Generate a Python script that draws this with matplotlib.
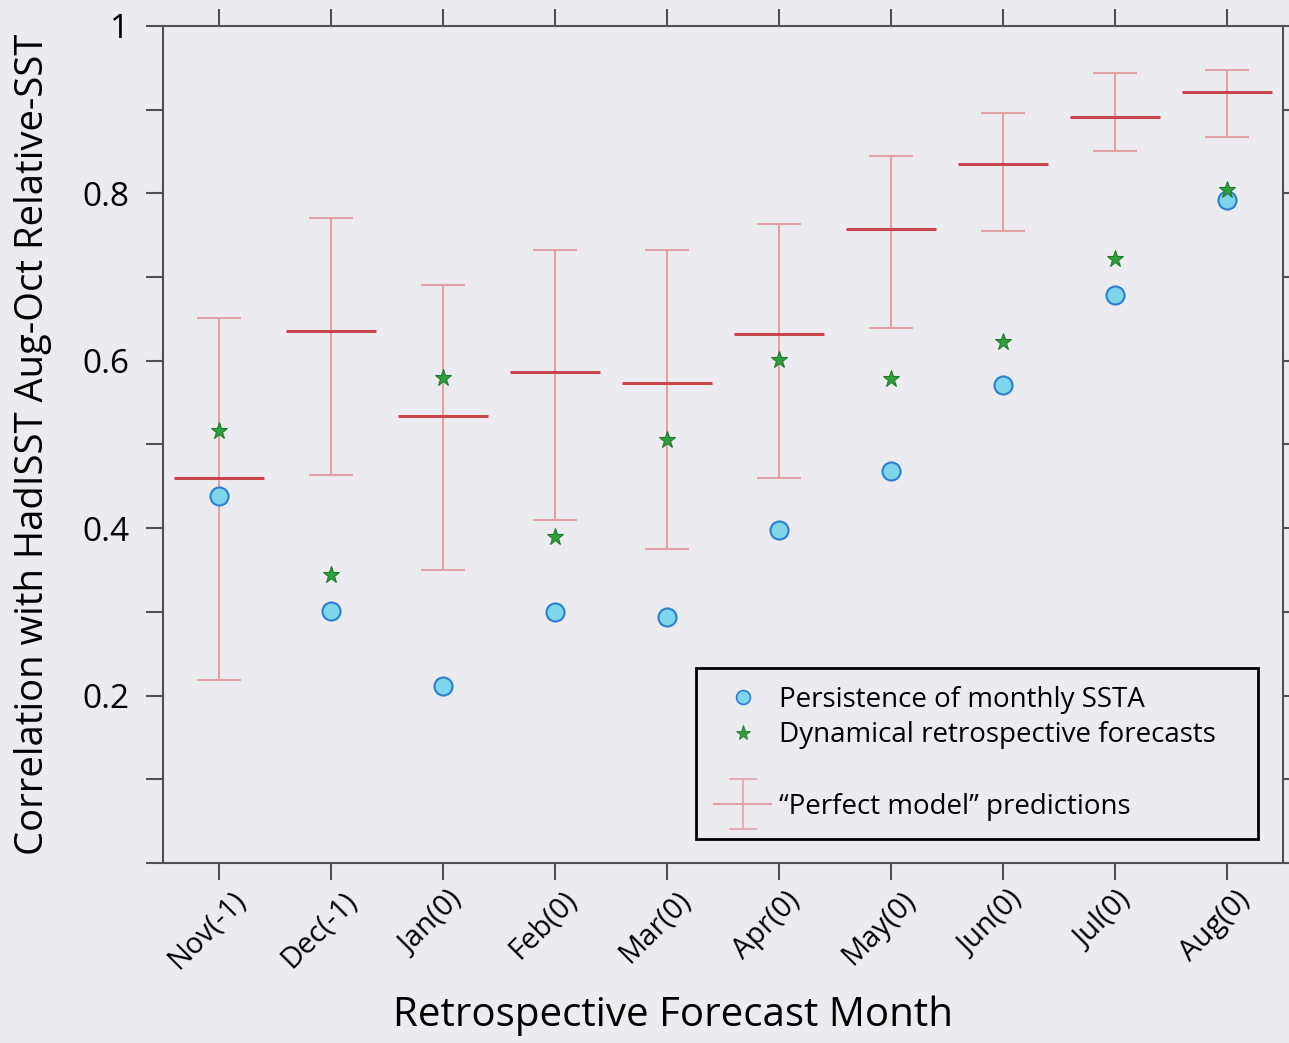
import matplotlib.pyplot as plt
import matplotlib.transforms as mtransforms
from matplotlib.legend_handler import HandlerErrorbar
from matplotlib.lines import Line2D
import numpy as np

months = ['Nov(-1)', 'Dec(-1)', 'Jan(0)', 'Feb(0)', 'Mar(0)',
          'Apr(0)', 'May(0)', 'Jun(0)', 'Jul(0)', 'Aug(0)']

# "perfect model" ensemble: mean with lower / upper range
perfect_mean = [0.460, 0.636, 0.534, 0.587, 0.573, 0.632, 0.757, 0.835, 0.891, 0.921]
perfect_low = [0.219, 0.463, 0.350, 0.410, 0.375, 0.460, 0.639, 0.755, 0.851, 0.867]
perfect_high = [0.651, 0.770, 0.690, 0.732, 0.732, 0.763, 0.845, 0.896, 0.944, 0.947]

persistence = [0.439, 0.301, 0.211, 0.300, 0.294, 0.398, 0.468, 0.571, 0.678, 0.792]
dynamical = [0.516, 0.344, 0.579, 0.389, 0.505, 0.601, 0.578, 0.622, 0.721, 0.804]

ytick_vals = np.round(np.arange(0, 1.01, 0.1), 1)
ytick_text = ['', '', '0.2', '', '0.4', '', '0.6', '', '0.8', '', '1']

bg = '#ececf0'
axis_col = '#505050'
plt.rcParams['font.family'] = ['Open Sans', 'DejaVu Sans']

fig = plt.figure(figsize=(12.89, 10.43), dpi=100, facecolor=bg)
ax = fig.add_axes([0.1265, 0.1726, 0.8688, 0.8025], facecolor=bg)

x = np.arange(len(months))
mean = np.array(perfect_mean)
yerr = [mean - np.array(perfect_low), np.array(perfect_high) - mean]

ax.errorbar(x, mean, yerr=yerr, fmt='none', ecolor='#e0a2a6', elinewidth=1.5,
            capsize=15.5, capthick=1.5, zorder=2)
ax.hlines(mean, x - 0.4, x + 0.4, color='#c8464b', lw=2.2, zorder=3)

ax.plot(x, persistence, 'o', ms=13, mfc='#7fd6ea', mec='#2b7fd0', mew=1.5, zorder=4)
ax.plot(x, dynamical, '*', ms=12.5, mfc='#2fa03c', mec='#1f7a2c', mew=0.8, zorder=5)

ax.set_xlim(-0.5, 9.5)
ax.set_ylim(0, 1)
ax.set_xticks(x)
ax.set_xticklabels(months, rotation=45, ha='center', fontsize=21)
ax.set_yticks(ytick_vals)
ax.set_yticklabels(ytick_text, fontsize=24)
ax.tick_params(axis='both', direction='out', length=12.5, width=1.5, color=axis_col,
               top=True, right=True, labeltop=False, labelright=False)
ax.tick_params(axis='y', pad=12)
ax.tick_params(axis='x', pad=4)
for s in ax.spines.values():
    s.set_color(axis_col)
    s.set_linewidth(1.5)

# nudge the slanted month labels a little to the left
shift = mtransforms.ScaledTranslation(-12 / 100, 0, fig.dpi_scale_trans)
for lab in ax.get_xticklabels():
    lab.set_transform(lab.get_transform() + shift)

ax.set_xlabel('Retrospective Forecast Month', fontsize=29)
ax.xaxis.set_label_coords(0.455, -0.158)
ax.set_ylabel('Correlation with HadISST Aug-Oct Relative-SST', fontsize=27.5)
ax.yaxis.set_label_coords(-0.099, 0.5)

# legend: blank entry pads the gap above the error-bar symbol
h_pers = Line2D([], [], ls='none', marker='o', ms=10, mfc='#7fd6ea', mec='#2b7fd0', mew=1.2)
h_dyn = Line2D([], [], ls='none', marker='*', ms=11, mfc='#2fa03c', mec='#1f7a2c', mew=0.6)
h_blank = Line2D([], [], ls='none')
h_perf = ax.errorbar([np.nan], [np.nan], yerr=[1], fmt='-', color='#e0a2a6',
                     ecolor='#e0a2a6', lw=1.5, elinewidth=1.2, capsize=10, capthick=1.2)
leg = ax.legend([h_pers, h_dyn, h_blank, h_perf],
                ['Persistence of monthly SSTA', 'Dynamical retrospective forecasts', '',
                 '\u201cPerfect model\u201d predictions'],
                handler_map={type(h_perf): HandlerErrorbar(xerr_size=0.5, yerr_size=0.9)},
                loc='lower left', bbox_to_anchor=(0.4759, 0.0287, 0.5018, 0.2),
                mode='expand', borderaxespad=0,
                fontsize=20, handlelength=2.05, handletextpad=0.3, labelspacing=0.28,
                fancybox=False, framealpha=1, facecolor=bg, edgecolor='black',
                borderpad=0.65)
leg.get_frame().set_linewidth(2)

fig.savefig('out.png', dpi=100, facecolor=bg)
